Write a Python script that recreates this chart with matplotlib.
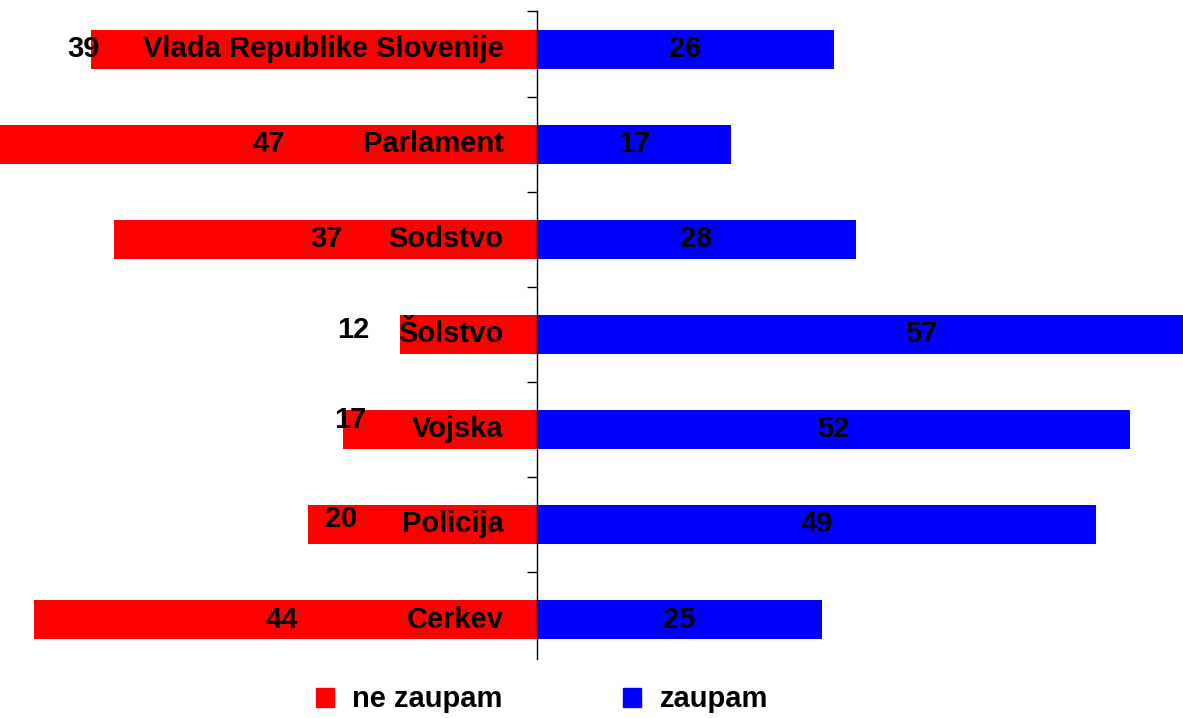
import matplotlib
matplotlib.use("Agg")
import matplotlib.pyplot as plt
from matplotlib.patches import Patch

plt.rcParams['font.family'] = ['Liberation Sans', 'DejaVu Sans']
plt.rcParams['font.weight'] = 'bold'

# ------------------------------ data ------------------------------ #
categories = ['Vlada Republike Slovenije', 'Parlament', 'Sodstvo', 'Šolstvo',
              'Vojska', 'Policija', 'Cerkev']
ne_zaupam = [39, 47, 37, 12, 17, 20, 44]
zaupam = [26, 17, 28, 57, 52, 49, 25]
series_names = ['ne zaupam', 'zaupam']

# hand-placed label spots (as in the original sheet)
red_label_x = [-39.7, -23.5, -18.4, -16.1, -16.3, -17.1, -22.3]
red_label_dy = [0, 0, 0, -0.04, -0.1, -0.06, 0]
blue_label_x = [v / 2 for v in zaupam]
blue_label_x[3] = 33.7

red = '#ff0000'
blue = '#0000ff'
fs = 21

# ------------------------------ plot ------------------------------ #
fig = plt.figure(figsize=(11.83, 7.18), dpi=100)
ax = fig.add_axes([0, 0.0822, 1, 0.9025])

ypos = list(range(len(categories)))
ax.barh(ypos, [-v for v in ne_zaupam], height=0.41, color=red)
ax.barh(ypos, zaupam, height=0.41, color=blue)

for i, cat in enumerate(categories):
    ax.text(-2.9, i, cat, ha='right', va='center', fontsize=fs,
            fontweight='bold')
    ax.text(red_label_x[i], i + red_label_dy[i], str(ne_zaupam[i]),
            ha='center', va='center', fontsize=fs, fontweight='bold')
    ax.text(blue_label_x[i], i, str(zaupam[i]), ha='center', va='center',
            fontsize=fs, fontweight='bold')

ax.set_xlim(-47.0, 56.6)
ax.set_ylim(6.415, -0.4)

# axis line through zero, ticks between categories
for s in ['top', 'right', 'bottom']:
    ax.spines[s].set_visible(False)
ax.spines['left'].set_position(('data', 0))
ax.spines['left'].set_linewidth(1.0)
ax.set_yticks([-0.4] + [k + 0.5 for k in range(len(categories) - 1)])
ax.set_yticklabels([])
ax.tick_params(axis='y', direction='out', length=7, width=1)
ax.set_xticks([])

handles = [Patch(color=red), Patch(color=blue)]
fig.legend(handles, series_names, loc='center', bbox_to_anchor=(0.458, 0.026),
           ncol=2, frameon=False, handlelength=0.62,
           handleheight=0.62, handletextpad=0.62, columnspacing=4.15,
           prop={'size': fs, 'weight': 'bold'})

plt.savefig('out.png', dpi=100)
